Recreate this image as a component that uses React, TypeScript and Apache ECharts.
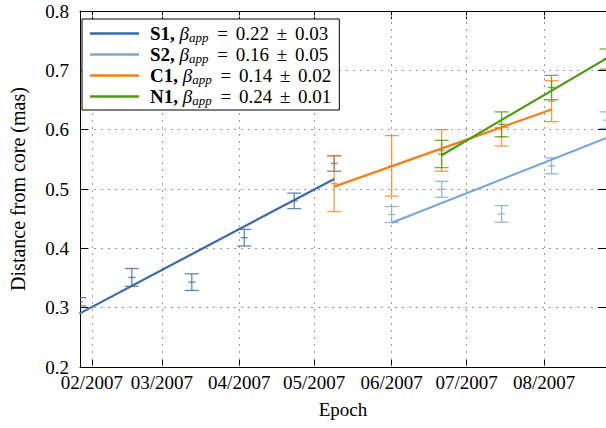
import React, { useEffect, useRef } from "react";
import * as echarts from "echarts";

// Day numbers counted from 1 January 2007 (UTC).
const DAY0 = Date.UTC(2007, 0, 1);
const dayOf = (s: string) =>
  (Date.UTC(+s.slice(0, 4), +s.slice(5, 7) - 1, +s.slice(8, 10)) - DAY0) / 86400000;

const monthTicks = ["2007-02-01", "2007-03-01", "2007-04-01", "2007-05-01", "2007-06-01", "2007-07-01", "2007-08-01"];
const monthLabels = ["02/2007", "03/2007", "04/2007", "05/2007", "06/2007", "07/2007", "08/2007"];
const yTickLabels = ["0.2", "0.3", "0.4", "0.5", "0.6", "0.7", "0.8"];

// Component positions (mas) with 1-sigma errors
const s1Dates = ["2007-01-27", "2007-02-17", "2007-03-13", "2007-04-03", "2007-04-23", "2007-05-09"];
const s1Values = [0.31, 0.351, 0.343, 0.418, 0.48, 0.543];
const s1Errors = [0.007, 0.015, 0.014, 0.014, 0.013, 0.013];

const s2Dates = ["2007-06-01", "2007-06-21", "2007-07-15", "2007-08-04", "2007-08-26"];
const s2Values = [0.457, 0.4995, 0.458, 0.539, 0.616];
const s2Errors = [0.0135, 0.0135, 0.014, 0.0135, 0.014];

const c1Dates = ["2007-05-09", "2007-06-01", "2007-06-21", "2007-07-15", "2007-08-04"];
const c1Values = [0.509, 0.539, 0.565, 0.588, 0.648];
const c1Errors = [0.047, 0.051, 0.035, 0.0155, 0.0345];

const n1Dates = ["2007-06-21", "2007-07-15", "2007-08-04", "2007-08-26"];
const n1Values = [0.559, 0.609, 0.671, 0.719];
const n1Errors = [0.023, 0.021, 0.0205, 0.017];

// Linear fits: start and end of each fitted segment
const s1FitDates = ["2007-01-27", "2007-05-09"];
const s1FitValues = [0.29, 0.517];
const s2FitDates = ["2007-06-01", "2007-08-26"];
const s2FitValues = [0.443, 0.586];
const c1FitDates = ["2007-05-09", "2007-08-04"];
const c1FitValues = [0.504, 0.634];
const n1FitDates = ["2007-06-21", "2007-08-26"];
const n1FitValues = [0.557, 0.72];

const componentNames = ["S1", "S2", "C1", "N1"];
const betaValues = [0.22, 0.16, 0.14, 0.24];
const betaErrors = [0.03, 0.05, 0.02, 0.01];
const colors = ["#3a69ad", "#79a7da", "#f57f17", "#4f9b10"];

const FONT = "Liberation Serif";
const X_MIN = 26.25;
const X_MAX = 236.8;

const monthDays = monthTicks.map(dayOf);

const errorData = (dates: string[], values: number[], errors: number[]) =>
  dates.map((d, i) => [dayOf(d), values[i], errors[i]]);
const fitData = (dates: string[], values: number[]) => dates.map((d, i) => [dayOf(d), values[i]]);

const errorBarRenderer = (color: string) => (_params: any, api: any) => {
  const x = api.value(0);
  const y = api.value(1);
  const e = api.value(2);
  const top = api.coord([x, y + e]);
  const bot = api.coord([x, y - e]);
  const mid = api.coord([x, y]);
  const cap = 7;
  const mk = 3.5;
  const style = { stroke: color, lineWidth: 1.3, opacity: 0.8 };
  return {
    type: "group",
    children: [
      { type: "line", shape: { x1: top[0], y1: top[1], x2: bot[0], y2: bot[1] }, style },
      { type: "line", shape: { x1: top[0] - cap, y1: top[1], x2: top[0] + cap, y2: top[1] }, style },
      { type: "line", shape: { x1: bot[0] - cap, y1: bot[1], x2: bot[0] + cap, y2: bot[1] }, style },
      { type: "line", shape: { x1: mid[0] - mk, y1: mid[1], x2: mid[0] + mk, y2: mid[1] }, style },
    ],
  };
};

const errorSeries = (name: string, data: number[][], color: string) => ({
  name,
  type: "custom",
  clip: true,
  renderItem: errorBarRenderer(color),
  encode: { x: 0, y: 1 },
  data,
  z: 2,
  silent: true,
});

const fitSeries = (name: string, data: number[][], color: string, extra: any = {}) => ({
  name,
  type: "line",
  data,
  color,
  showSymbol: false,
  symbol: "none",
  lineStyle: { color, width: 2.2 },
  z: 3,
  silent: true,
  ...extra,
});

export default function App() {
  const ref = useRef<HTMLDivElement>(null);

  useEffect(() => {
    if (!ref.current) return;
    const chart = echarts.init(ref.current, undefined, { renderer: "svg" });

    const gridLine = { show: true, lineStyle: { color: "#9a9a9a", type: [2, 5], width: 1 } };
    const tickStyle = { show: true, inside: true, length: 8, lineStyle: { color: "#000", width: 1 } };
    const axisLine = { show: true, onZero: false, lineStyle: { color: "#000", width: 1 } };

    const legendText: Record<string, string> = {};
    componentNames.forEach((n, i) => {
      legendText[n] =
        `{b|${n},}{sp| }{i|β}{s|app}{op| = }{n|${betaValues[i].toFixed(2)}}` +
        `{pm| ± }{n|${betaErrors[i].toFixed(2)}}`;
    });

    const base = { fontFamily: FONT, fontSize: 19, color: "#000", lineHeight: 21 };

    chart.setOption({
      animation: false,
      backgroundColor: "#fff",
      grid: { left: 74, right: 0, top: 11, bottom: 61, containLabel: false },
      xAxis: [
        {
          type: "value",
          min: X_MIN,
          max: X_MAX,
          position: "bottom",
          name: "Epoch",
          nameLocation: "middle",
          nameGap: 33,
          nameTextStyle: { fontFamily: FONT, fontSize: 19, color: "#000" },
          axisLine,
          axisTick: { ...tickStyle, customValues: monthDays },
          axisLabel: {
            customValues: monthDays,
            formatter: (v: number) => monthLabels[monthDays.indexOf(v)] ?? "",
            fontFamily: FONT,
            fontSize: 19,
            color: "#000",
            margin: 6,
          },
          splitLine: { show: false },
        },
        {
          type: "value",
          min: X_MIN,
          max: X_MAX,
          position: "top",
          axisLine,
          axisTick: { ...tickStyle, customValues: monthDays },
          axisLabel: { show: false },
          splitLine: { show: false },
        },
      ],
      yAxis: [
        {
          type: "value",
          min: 0.2,
          max: 0.8,
          interval: 0.1,
          position: "left",
          name: "Distance from core (mas)",
          nameLocation: "middle",
          nameGap: 52,
          nameTextStyle: { fontFamily: FONT, fontSize: 20, color: "#000" },
          axisLine,
          axisTick: tickStyle,
          axisLabel: {
            formatter: (v: number) => yTickLabels[Math.round((v - 0.2) * 10)] ?? "",
            fontFamily: FONT,
            fontSize: 19,
            color: "#000",
            margin: 11,
          },
          splitLine: gridLine,
        },
        {
          type: "value",
          min: 0.2,
          max: 0.8,
          interval: 0.1,
          position: "right",
          axisLine,
          axisTick: tickStyle,
          axisLabel: { show: false },
          splitLine: { show: false },
        },
      ],
      legend: {
        data: componentNames,
        orient: "vertical",
        left: 82,
        top: 19,
        padding: [4, 8, 3, 8],
        itemGap: 0,
        itemWidth: 49,
        itemHeight: 2.6,
        icon: "rect",
        backgroundColor: "#fff",
        borderColor: "#000",
        borderWidth: 1,
        borderRadius: 0,
        selectedMode: false,
        formatter: (name: string) => legendText[name],
        textStyle: {
          ...base,
          rich: {
            b: { ...base, fontWeight: "bold", padding: [0, 0, 0, 6] },
            sp: { ...base },
            i: { ...base, fontStyle: "italic" },
            s: { ...base, fontStyle: "italic", fontSize: 13, padding: [8, 1, 0, 0] },
            op: { ...base, padding: [0, 3, 0, 3] },
            pm: { ...base, padding: [0, 3, 0, 3] },
            n: { ...base },
          },
        },
      },
      series: [
        errorSeries("S1 points", errorData(s1Dates, s1Values, s1Errors), colors[0]),
        errorSeries("S2 points", errorData(s2Dates, s2Values, s2Errors), colors[1]),
        errorSeries("C1 points", errorData(c1Dates, c1Values, c1Errors), colors[2]),
        errorSeries("N1 points", errorData(n1Dates, n1Values, n1Errors), colors[3]),
        fitSeries("S1", fitData(s1FitDates, s1FitValues), colors[0], {
          markLine: {
            silent: true,
            symbol: ["none", "none"],
            label: { show: false },
            lineStyle: { color: "#9a9a9a", type: [2, 5], width: 1 },
            emphasis: { disabled: true },
            data: monthDays.map((d) => ({ xAxis: d })),
            z: 1,
          },
        }),
        fitSeries("S2", fitData(s2FitDates, s2FitValues), colors[1]),
        fitSeries("C1", fitData(c1FitDates, c1FitValues), colors[2]),
        fitSeries("N1", fitData(n1FitDates, n1FitValues), colors[3]),
      ],
    });

    return () => chart.dispose();
  }, []);

  return (
    <div
      ref={ref}
      style={{ position: "fixed", left: 0, top: 0, width: 606, height: 428, background: "#fff" }}
    />
  );
}
